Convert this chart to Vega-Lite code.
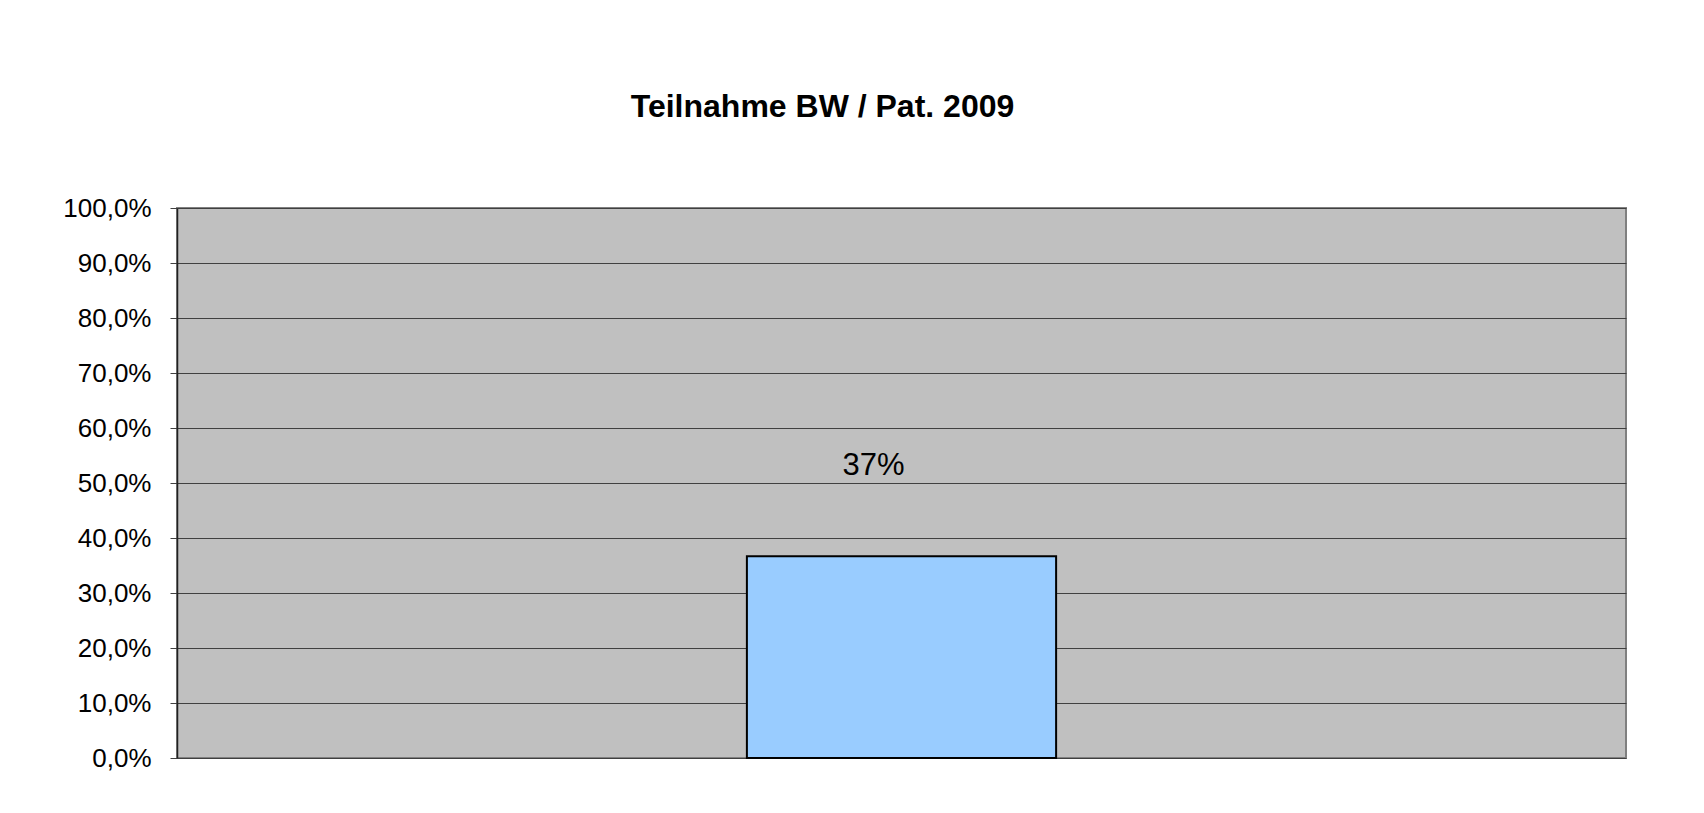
{
  "$schema": "https://vega.github.io/schema/vega-lite/v6.json",
  "autosize": {"type": "none"},
  "padding": {"left": 177, "top": 208, "right": 78, "bottom": 55},
  "width": 1449,
  "height": 550,
  "background": "white",
  "title": {
    "text": "Teilnahme BW / Pat. 2009",
    "font": "Liberation Sans",
    "fontSize": 32,
    "fontWeight": "bold",
    "color": "#000000",
    "anchor": "middle",
    "dx": -79,
    "offset": 71
  },
  "config": {
    "locale": {
      "number": {"decimal": ",", "thousands": ".", "grouping": [3], "currency": ["", " €"]}
    },
    "view": {"fill": "#C0C0C0", "stroke": "#808080", "strokeWidth": 2},
    "font": "Liberation Sans"
  },
  "data": {
    "values": [
      {"kategorie": "Teilnahme", "anteil": 0.367}
    ]
  },
  "encoding": {
    "x": {"field": "kategorie", "type": "nominal", "axis": null, "scale": {"paddingInner": 0, "paddingOuter": 0}},
    "y": {
      "field": "anteil",
      "type": "quantitative",
      "scale": {"domain": [0, 1], "nice": false},
      "axis": {
        "title": null,
        "values": [0, 0.1, 0.2, 0.3, 0.4, 0.5, 0.6, 0.7, 0.8, 0.9, 1.0],
        "format": ".1%",
        "labelFont": "Liberation Sans",
        "labelFontSize": 26,
        "labelColor": "#000000",
        "labelPadding": 19,
        "tickSize": 7,
        "tickColor": "#404040",
        "tickWidth": 1,
        "domainColor": "#202020",
        "domainWidth": 1.5,
        "grid": true,
        "gridColor": "#404040",
        "gridWidth": 1,
        "gridOpacity": 1
      }
    }
  },
  "layer": [
    {
      "mark": {"type": "bar", "fill": "#99CCFF", "stroke": "#000000", "strokeWidth": 2, "width": {"band": 0.2134}, "opacity": 1}
    },
    {
      "mark": {"type": "text", "font": "Liberation Sans", "fontSize": 31, "color": "#000000", "align": "center", "baseline": "alphabetic", "dx": -28, "dy": -81},
      "encoding": {
        "text": {"field": "anteil", "type": "quantitative", "format": ".0%"}
      }
    }
  ]
}
